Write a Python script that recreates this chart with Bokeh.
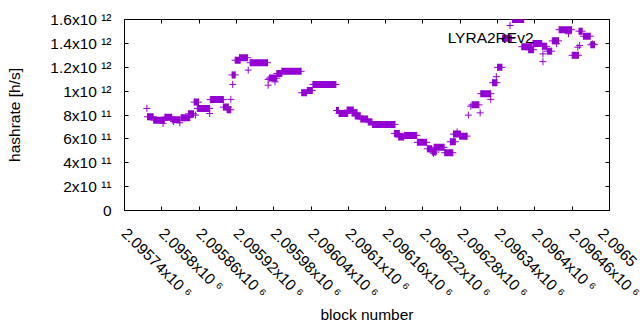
import math
from bokeh.plotting import figure
from bokeh.models import Range1d, FixedTicker, LinearAxis, Label, ColumnDataSource
from bokeh.embed import file_html
from bokeh.resources import INLINE

# ---------------- data ----------------
# runs of consecutive blocks that share the same hashrate value
run_first = [2095777, 2095787, 2095805, 2095817, 2095831, 2095843, 2095852, 2095857, 2095878, 2095899,
             2095905, 2095913, 2095918, 2095925, 2095942, 2095973, 2095985, 2095993, 2096025, 2096034,
             2096043, 2096081, 2096085, 2096098, 2096106, 2096111, 2096120, 2096132, 2096139, 2096174,
             2096181, 2096190, 2096211, 2096227, 2096235, 2096238, 2096255, 2096264, 2096269, 2096279,
             2096299, 2096313, 2096332, 2096340, 2096348, 2096364, 2096379, 2096390, 2096397, 2096412,
             2096420, 2096428, 2096439, 2096460, 2096471, 2096478, 2096490]
run_last = [2095786, 2095804, 2095816, 2095829, 2095845, 2095851, 2095859, 2095877, 2095899, 2095907,
            2095911, 2095918, 2095926, 2095938, 2095970, 2095985, 2095993, 2096024, 2096033, 2096042,
            2096080, 2096084, 2096099, 2096108, 2096114, 2096119, 2096131, 2096138, 2096175, 2096182,
            2096189, 2096210, 2096226, 2096234, 2096241, 2096254, 2096268, 2096272, 2096280, 2096291,
            2096310, 2096329, 2096339, 2096347, 2096362, 2096382, 2096395, 2096398, 2096411, 2096419,
            2096427, 2096438, 2096459, 2096470, 2096476, 2096489, 2096496]
run_hashrate = [7.85e11, 7.57e11, 7.82e11, 7.60e11, 7.78e11, 8.10e11, 9.08e11, 8.55e11, 9.29e11, 8.66e11,
                8.44e11, 11.36e11, 12.59e11, 12.80e11, 12.38e11, 11.09e11, 11.48e11, 11.66e11, 9.87e11, 10.06e11,
                10.56e11, 8.38e11, 8.13e11, 8.41e11, 8.18e11, 7.92e11, 7.66e11, 7.41e11, 7.21e11, 6.46e11,
                6.15e11, 6.29e11, 5.71e11, 5.17e11, 4.90e11, 5.29e11, 4.84e11, 5.76e11, 6.40e11, 6.23e11,
                8.85e11, 9.79e11, 10.71e11, 11.99e11, 14.42e11, 16.0e11, 13.72e11, 13.47e11, 14.0e11, 13.75e11,
                13.35e11, 14.21e11, 15.15e11, 13.0e11, 15.02e11, 14.60e11, 13.89e11]

# single blocks standing apart
point_block = [2095776, 2095802, 2095819, 2095829, 2095854, 2095877, 2095911, 2095914, 2095939, 2095971,
               2095971, 2095982, 2096237, 2096275, 2096293, 2096297, 2096312, 2096329, 2096338, 2096360,
               2096413, 2096413, 2096435, 2096454, 2096469, 2096472, 2096493]
point_hashrate = [8.55e11, 7.30e11, 7.45e11, 7.35e11, 7.99e11, 8.13e11, 9.31e11, 10.56e11, 11.76e11, 10.98e11,
                  10.50e11, 10.78e11, 4.79e11, 6.59e11, 7.99e11, 8.74e11, 8.18e11, 9.31e11, 11.21e11, 15.50e11,
                  13.12e11, 12.47e11, 13.97e11, 14.81e11, 13.68e11, 13.82e11, 13.96e11]

x_ticks = [2095740, 2095800, 2095860, 2095920, 2095980, 2096040, 2096100,
           2096160, 2096220, 2096280, 2096340, 2096400, 2096460, 2096520]
# the last label runs off the right edge of the picture; only its start is visible
x_tick_labels = ["2.09574x10 \u2076", "2.0958x10 \u2076", "2.09586x10 \u2076", "2.09592x10 \u2076",
                 "2.09598x10 \u2076", "2.09604x10 \u2076", "2.0961x10 \u2076", "2.09616x10 \u2076",
                 "2.09622x10 \u2076", "2.09628x10 \u2076", "2.09634x10 \u2076", "2.0964x10 \u2076",
                 "2.09646x10 \u2076", "2.0965"]

y_ticks = [0, 2e11, 4e11, 6e11, 8e11, 1e12, 1.2e12, 1.4e12, 1.6e12]
y_tick_labels = ["0", "2x10 \u00b9\u00b9", "4x10 \u00b9\u00b9", "6x10 \u00b9\u00b9", "8x10 \u00b9\u00b9",
                 "1x10 \u00b9\u00b2", "1.2x10 \u00b9\u00b2", "1.4x10 \u00b9\u00b2", "1.6x10 \u00b9\u00b2"]

series_name = "LYRA2REv2"
x_title = "block number"
y_title = "hashrate [h/s]"

# ---------------- styling ----------------
FONT = "Liberation Sans"
FS = "15.5px"
PURPLE = "#9400D3"

p = figure(width=640, height=330, output_backend="svg", toolbar_location=None,
           x_range=Range1d(x_ticks[0], x_ticks[-1]), y_range=Range1d(y_ticks[0], y_ticks[-1]),
           min_border_left=124, min_border_right=31, min_border_top=19, min_border_bottom=120,
           x_axis_label=x_title, y_axis_label=y_title)
p.grid.visible = False
p.background_fill_color = "white"
p.border_fill_color = "white"
p.outline_line_color = "black"
p.outline_line_width = 1
p.outline_line_alpha = 1.0

p.add_layout(LinearAxis(), "right")
p.add_layout(LinearAxis(), "above")


def style_axis(ax, ticks):
    ax.ticker = FixedTicker(ticks=ticks)
    ax.major_tick_in = 4
    ax.major_tick_out = 0
    ax.minor_tick_in = 0
    ax.minor_tick_out = 0
    ax.axis_line_color = None
    ax.major_tick_line_color = "black"
    ax.major_label_text_font = FONT
    ax.major_label_text_font_size = FS
    ax.major_label_text_color = "black"
    ax.axis_label_text_font = FONT
    ax.axis_label_text_font_size = FS
    ax.axis_label_text_font_style = "normal"
    ax.axis_label_text_color = "black"


for ax in p.xaxis:
    style_axis(ax, x_ticks)
for ax in p.yaxis:
    style_axis(ax, y_ticks)

# visible tick labels on the bottom and left axes, mirrored ticks only on top/right
bottom, top = p.below[0], p.above[0]
left, right = p.left[0], p.right[0]
bottom.major_label_overrides = dict(zip(x_ticks, x_tick_labels))
bottom.major_label_orientation = -math.pi / 4
bottom.major_label_standoff = 20
bottom.axis_label_standoff = -4
left.major_label_overrides = dict(zip(y_ticks, y_tick_labels))
left.major_label_standoff = 13
left.axis_label_standoff = 24
for ax, ticks in ((top, x_ticks), (right, y_ticks)):
    ax.major_label_overrides = {t: "" for t in ticks}
    ax.major_label_text_color = None
    ax.major_label_standoff = 0

# ---------------- marks ----------------
run_src = ColumnDataSource(dict(
    xc=[(a + b) / 2 for a, b in zip(run_first, run_last)],
    w=[b - a for a, b in zip(run_first, run_last)],
    y=run_hashrate))
p.rect(x="xc", y="y", width="w", height=7, height_units="screen",
       source=run_src, fill_color=PURPLE, line_color=None)

cross_src = ColumnDataSource(dict(
    x=run_first + run_last + point_block,
    y=run_hashrate + run_hashrate + point_hashrate))
p.scatter(x="x", y="y", source=cross_src, marker="cross", size=7,
          line_color=PURPLE, line_width=1)

# key text (gnuplot key, top right inside the frame)
p.add_layout(Label(x=x_ticks[-1], y=y_ticks[-1], text=series_name, x_offset=-76, y_offset=-18,
                   text_align="right", text_baseline="alphabetic",
                   text_font=FONT, text_font_size=FS, text_color="black"))

open("out.html", "w").write(file_html(p, INLINE))
